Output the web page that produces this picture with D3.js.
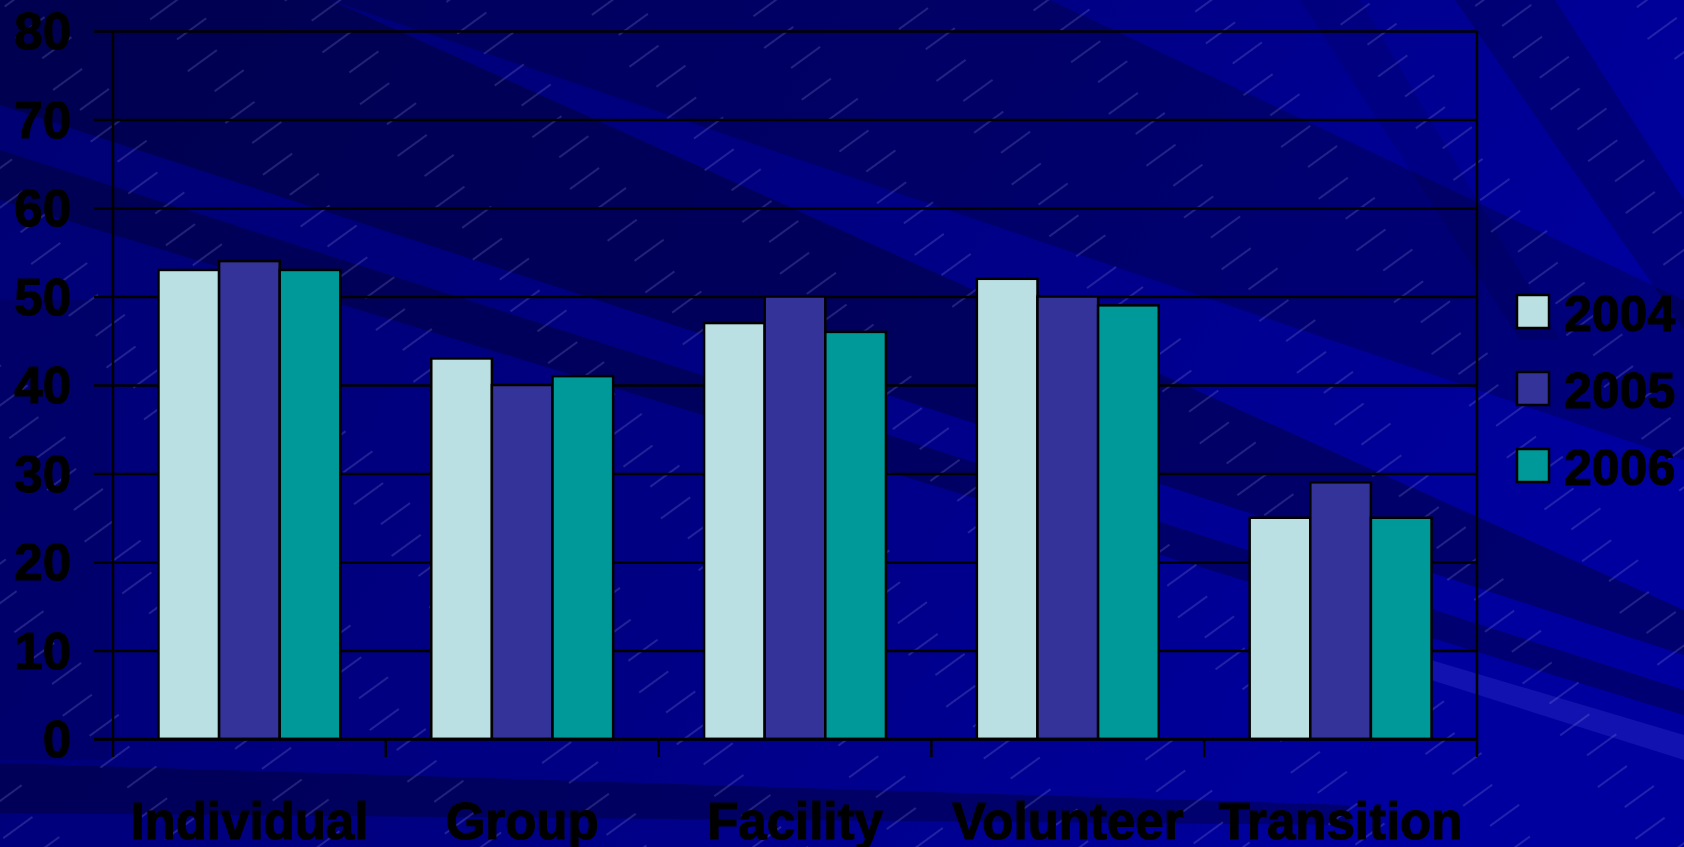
<!DOCTYPE html>
<html>
<head>
<meta charset="utf-8">
<script src="https://cdn.jsdelivr.net/npm/d3@7"></script>
<style>
  html, body { margin: 0; padding: 0; background: #000080; }
  svg { display: block; }
  text { font-family: "Liberation Sans", Arial, sans-serif; font-weight: bold; fill: #000; stroke: #000; stroke-width: 1.2px; }
</style>
</head>
<body>
<div id="chart"></div>
<script>
const categories = ['Individual', 'Group', 'Facility', 'Volunteer', 'Transition'];
const years = ['2004', '2005', '2006'];
const values2004 = [53, 43, 47, 52, 25];
const values2005 = [54, 40, 50, 50, 29];
const values2006 = [53, 41, 46, 49, 25];
const yTicks = [0, 10, 20, 30, 40, 50, 60, 70, 80];
const colors = ['#BBE0E3', '#333399', '#009999'];

const config = { width: 1684, height: 847, left: 113, right: 207, top: 31, bottom: 108 };

const series = [values2004, values2005, values2006];
const rows = categories.map((c, i) => ({ cat: c, vals: years.map((y, j) => ({ year: y, v: series[j][i] })) }));

const svg = d3.select('#chart').append('svg')
  .attr('width', config.width)
  .attr('height', config.height)
  .attr('viewBox', [0, 0, config.width, config.height]);

// background: navy slide with diagonal bands and dashed hatching
const defs = svg.append('defs');
const grad = defs.append('linearGradient').attr('id', 'bgGrad').attr('x1', 0).attr('x2', 1).attr('y1', 0).attr('y2', 0.3);
grad.append('stop').attr('offset', 0).attr('stop-color', '#000074');
grad.append('stop').attr('offset', 0.55).attr('stop-color', '#000084');
grad.append('stop').attr('offset', 1).attr('stop-color', '#00009e');

const hatch = defs.append('pattern').attr('id', 'hatch')
  .attr('patternUnits', 'userSpaceOnUse')
  .attr('width', 240).attr('height', 64)
  .attr('patternTransform', 'rotate(-36)');
[[8, 0], [40, 130]].forEach(([yy, off]) => {
  hatch.append('line').attr('x1', 0).attr('x2', 240).attr('y1', yy).attr('y2', yy)
    .attr('stroke', 'rgba(150,150,230,0.45)').attr('stroke-width', 1)
    .attr('stroke-dasharray', '36 84').attr('stroke-dashoffset', off);
});

const bg = svg.append('g');
bg.append('rect').attr('width', config.width).attr('height', config.height).attr('fill', 'url(#bgGrad)');

const bands = [
  { fill: '#000', op: 0.3, pts: [[0, 0], [330, 0], [1684, 610], [1684, 655], [0, 105]] },
  { fill: '#000', op: 0.22, pts: [[330, 0], [1050, 0], [1684, 300], [1684, 460]] },
  { fill: '#000', op: 0.28, pts: [[0, 150], [0, 200], [1684, 715], [1684, 690]] },
  { fill: '#2020c0', op: 0.55, pts: [[1330, 630], [1684, 735], [1684, 760], [1330, 648]] },
  { fill: '#000', op: 0.12, pts: [[0, 300], [110, 300], [110, 760], [0, 760]] },
  { fill: '#000', op: 0.28, pts: [[0, 763], [1350, 805], [1350, 825], [0, 813]] },
  { fill: '#000', op: 0.2, pts: [[1455, 0], [1555, 0], [1684, 200], [1684, 330]] },
  { fill: '#000', op: 0.1, pts: [[1300, 0], [1360, 0], [1560, 340], [1520, 340]] }
];
bg.selectAll('polygon').data(bands).join('polygon')
  .attr('points', d => d.pts.map(p => p.join(',')).join(' '))
  .attr('fill', d => d.fill)
  .attr('fill-opacity', d => d.op);
bg.append('rect').attr('width', config.width).attr('height', config.height).attr('fill', 'url(#hatch)');

const innerRight = config.width - config.right;
const innerBottom = config.height - config.bottom;

const xScale = d3.scaleBand().domain(categories).range([config.left, innerRight]).paddingInner(0).paddingOuter(0);
const xInner = d3.scaleBand().domain(years).range([0, xScale.bandwidth()]).paddingInner(0).paddingOuter(0.75);
const yScale = d3.scaleLinear().domain([0, 80]).range([innerBottom, config.top]);

// gridlines + y axis
const yAxis = d3.axisLeft(yScale)
  .tickValues(yTicks)
  .tickSize(-(innerRight - config.left + 19))
  .tickFormat(d3.format('d'))
  .tickPadding(0);
const yG = svg.append('g')
  .attr('transform', `translate(${innerRight},0)`)
  .call(yAxis);
yG.select('.domain').remove();
yG.selectAll('.tick line').attr('stroke', '#000').attr('stroke-width', 2.5)
  .attr('x1', 0).attr('x2', -(innerRight - config.left + 19));
yG.selectAll('.tick text').remove();

const yLabels = svg.append('g');
yLabels.selectAll('text').data(yTicks).join('text')
  .attr('x', 71)
  .attr('y', d => yScale(d) + 18)
  .attr('text-anchor', 'end')
  .attr('font-size', 51)
  .text(d => d);

// bars
const groups = svg.append('g').selectAll('g').data(rows).join('g')
  .attr('transform', d => `translate(${xScale(d.cat)},0)`);
groups.selectAll('rect').data(d => d.vals).join('rect')
  .attr('x', d => xInner(d.year))
  .attr('y', d => yScale(d.v))
  .attr('width', xInner.bandwidth())
  .attr('height', d => yScale(0) - yScale(d.v))
  .attr('fill', (d, i) => colors[i])
  .attr('stroke', '#000')
  .attr('stroke-width', 2.5);

// axis lines
const axes = svg.append('g').attr('stroke', '#000').attr('stroke-width', 2.5);
axes.append('line').attr('x1', config.left).attr('x2', config.left).attr('y1', config.top).attr('y2', innerBottom + 18);
axes.append('line').attr('x1', innerRight).attr('x2', innerRight).attr('y1', config.top).attr('y2', innerBottom + 18);
axes.append('line').attr('x1', config.left - 19).attr('x2', innerRight).attr('y1', innerBottom).attr('y2', innerBottom);
axes.selectAll('.ctick').data(categories.slice(1)).join('line')
  .attr('class', 'ctick')
  .attr('x1', d => xScale(d)).attr('x2', d => xScale(d))
  .attr('y1', innerBottom).attr('y2', innerBottom + 18);

// category labels
svg.append('g').selectAll('text').data(categories).join('text')
  .attr('x', d => xScale(d) + xScale.bandwidth() / 2)
  .attr('y', 839)
  .attr('text-anchor', 'middle')
  .attr('font-size', 51)
  .text(d => d);

// legend
const legend = svg.append('g').attr('transform', 'translate(1517,295)');
const items = legend.selectAll('g').data(years).join('g')
  .attr('transform', (d, i) => `translate(0,${i * 77})`);
items.append('rect').attr('width', 32).attr('height', 33)
  .attr('fill', (d, i) => colors[i]).attr('stroke', '#000').attr('stroke-width', 2.5);
items.append('text').attr('x', 47).attr('y', 36).attr('font-size', 50).text(d => d);
</script>
</body>
</html>
